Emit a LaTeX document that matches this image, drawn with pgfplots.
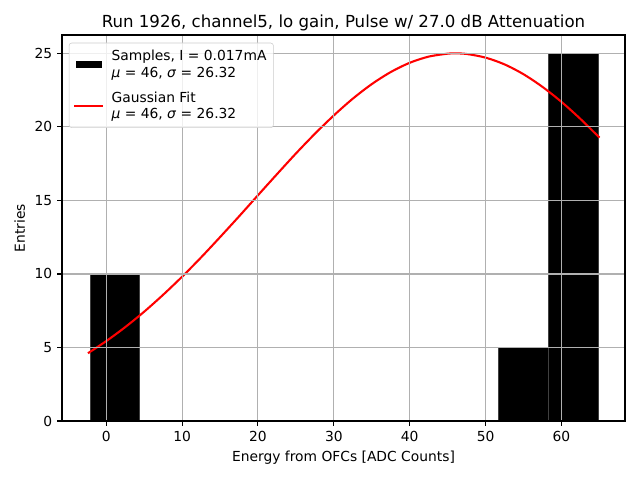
\documentclass[border=0pt]{standalone}
\usepackage{pgfplots}
\pgfplotsset{compat=1.18}
\usetikzlibrary{calc}
\usepackage{fontspec}
\setmainfont{DejaVu Sans}
\begin{document}
\begin{tikzpicture}[x=1in,y=1in]
\begin{axis}[
  name=ax,
  scale only axis,
  width=5.63in, height=3.86in,
  xmin=-5.82, xmax=68.37,
  ymin=0, ymax=26.25,
  xtick={0,10,20,30,40,50,60},
  ytick={0,5,10,15,20,25},
  grid=major,
  grid style={color=black!31, line width=0.8pt},
  axis line style={line width=0.8pt},
  tick style={black, line width=0.8pt},
  tick align=outside,
  major tick length=3.5pt,
  xtick pos=bottom, ytick pos=left,
  axis on top,
  /pgf/number format/assume math mode=true,
  ticklabel style={font=\fontsize{10}{12}\selectfont},
  xlabel={Energy from OFCs [ADC Counts]},
  ylabel={Entries},
  label style={font=\fontsize{10}{12}\selectfont},
  title={Run 1926, channel5, lo gain, Pulse w/ 27.0 dB Attenuation},
  title style={font=\fontsize{12}{14}\selectfont, yshift=-6.5pt},
  legend cell align=left,
  legend style={font=\fontsize{10}{12}\selectfont, cells={align=left}, draw=black!20, rounded corners=2pt, fill=white, fill opacity=0.8, text opacity=1, at={(0.012,0.98)}, anchor=north west, inner sep=3pt, row sep=5pt},
]
\addlegendimage{legend image code/.code={\fill[black, draw=none, sharp corners, fill opacity=1] (0pt,-2.8pt) rectangle (19pt,2.8pt); \path[draw=none, fill=none] (0pt,0pt) -- (24pt,0pt);}}
\addlegendentry{Samples, I = 0.017mA\\\textit{μ} = 46, \textit{σ} = 26.32}
\addlegendimage{legend image code/.code={\draw[red, sharp corners, draw opacity=1, line width=1.5pt] (-1pt,0pt) -- (20pt,0pt); \path[draw=none, fill=none] (0pt,0pt) -- (24pt,0pt);}}
\addlegendentry{Gaussian Fit\\\textit{μ} = 46, \textit{σ} = 26.32}
\addplot[ybar interval, fill=black, draw=black!75, line width=0.5pt, forget plot]
  coordinates {(-2.05,10) (4.39,0) (51.7,5) (58.3,25) (64.9,25)};
\addplot[red, line width=1.5pt, smooth, mark=none, forget plot]
  coordinates {
(-2.4,4.61) (0,5.43) (2.5,6.38) (5,7.43) (7.5,8.58) (10,9.81) (12.5,11.12)
(15,12.50) (17.5,13.91) (20,15.35) (22.5,16.78) (25,18.19) (27.5,19.53)
(30,20.78) (32.5,21.92) (35,22.91) (37.5,23.73) (40,24.36) (42.5,24.78)
(45,24.98) (46,25) (47.5,24.96) (50,24.71) (52.5,24.25) (55,23.58)
(57.5,22.72) (60,21.70) (62.5,20.54) (65,19.27)};
\end{axis}
\useasboundingbox (ax.south west) ++(-0.62,-0.59) rectangle ($(ax.north east)+(0.15,0.35)$);
\end{tikzpicture}
\end{document}
